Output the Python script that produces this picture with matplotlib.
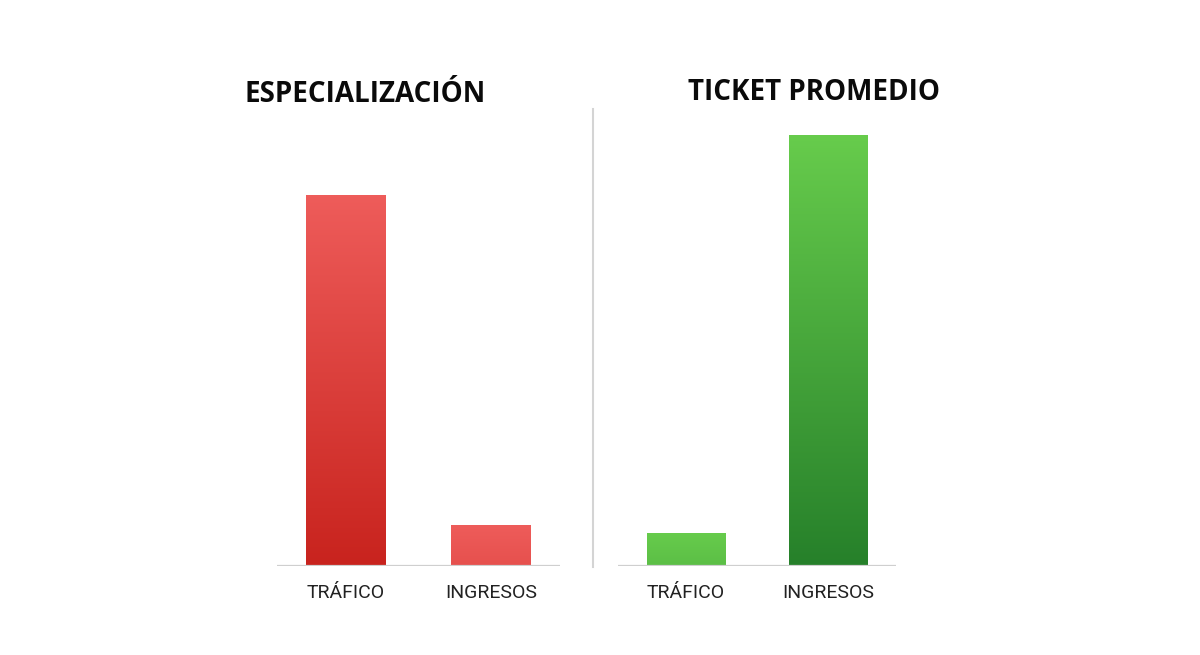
import numpy as np
import matplotlib
matplotlib.use("Agg")
import matplotlib.pyplot as plt
from matplotlib.colors import LinearSegmentedColormap

# Data
categories = ["TRÁFICO", "INGRESOS"]
titles = ["ESPECIALIZACIÓN", "TICKET PROMEDIO"]
esp_values = [86, 9.5]
ticket_values = [7.7, 100]
top_colors = ["#ee5c5a", "#67cc4c"]
bottom_colors = ["#c21a14", "#26802a"]

W, H = 1200, 655
fig = plt.figure(figsize=(W / 100, H / 100), dpi=100)
fig.patch.set_facecolor("white")

def px_axes(x0, x1, ytop, ybot):
    return fig.add_axes([x0 / W, 1 - ybot / H, (x1 - x0) / W, (ybot - ytop) / H])

ymax = 100
axes = [px_axes(277, 560, 135, 566), px_axes(618, 896, 135, 566)]
all_values = [esp_values, ticket_values]

label_font = ["Liberation Sans Narrow", "Roboto", "DejaVu Sans"]
title_font = ["Open Sans", "DejaVu Sans"]

for ax, vals, tc, bc in zip(axes, all_values, top_colors, bottom_colors):
    ax.set_xlim(-0.475, 1.475)
    ax.set_ylim(0, ymax)
    ax.axis("off")
    cmap = LinearSegmentedColormap.from_list("g", [bc, tc])
    bars = ax.bar(range(len(vals)), vals, width=0.55, color="none", edgecolor="none")
    for b in bars:
        x0, w, h = b.get_x(), b.get_width(), b.get_height()
        t = np.linspace(0, 1, 256).reshape(-1, 1)
        dist = (1 - t) * max(h / ymax, 0.18)
        grad = 1 - dist
        img = ax.imshow(grad, extent=[x0, x0 + w, 0, h], origin="lower",
                        cmap=cmap, vmin=0, vmax=1, aspect="auto", zorder=2,
                        interpolation="bilinear")
        img.set_clip_path(b)
    ax.axhline(0, color="#cfcfcf", lw=1.6, zorder=3)
    for i, c in enumerate(categories):
        ax.text(i, -6.3, c, ha="center", va="center", fontsize=14,
                family=label_font, color="#222222")

# Divider
fig.add_artist(plt.Line2D([593 / W, 593 / W], [1 - 109 / H, 1 - 567 / H],
                          color="#d4d4d4", lw=1.5))

# Titles
fig.text(365 / W, 1 - 95 / H, titles[0], ha="center", va="center",
         fontsize=20, fontweight="bold", family=title_font, color="#0a0a0a")
fig.text(814 / W, 1 - 92 / H, titles[1], ha="center", va="center",
         fontsize=20, fontweight="bold", family=title_font, color="#0a0a0a")

fig.savefig("out.png", dpi=100, facecolor="white")
